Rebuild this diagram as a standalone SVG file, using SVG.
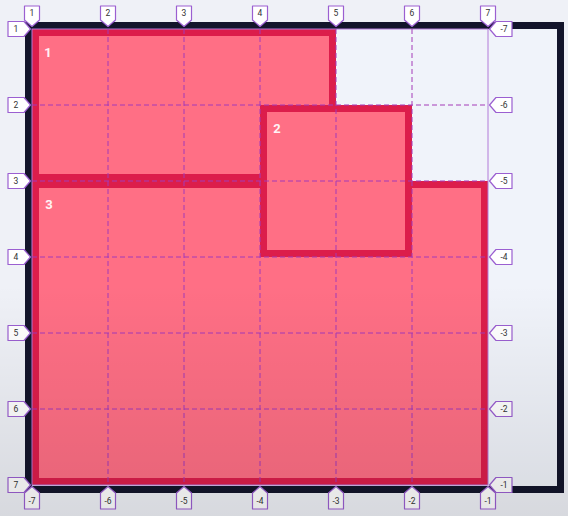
<svg xmlns="http://www.w3.org/2000/svg" width="568" height="516" viewBox="0 0 568 516">
<defs>
<linearGradient id="shade" x1="0" y1="0" x2="0" y2="1">
<stop offset="0" stop-color="#000" stop-opacity="0"/>
<stop offset="0.55" stop-color="#000" stop-opacity="0"/>
<stop offset="1" stop-color="#000" stop-opacity="0.1"/>
</linearGradient>
<style>
.item{fill:#ff6f85;stroke:#dc1d4b;stroke-width:7}
.num{font-family:Roboto,"Liberation Sans",sans-serif;font-size:13px;font-weight:700;fill:#fff3f5;text-anchor:middle}
.dash{stroke:#a43ab8;stroke-width:1;stroke-dasharray:5 3;fill:none}
.solid{stroke:#b27ad8;stroke-width:1;fill:none}
.badge path{fill:#fff;stroke:#9b5fd1;stroke-width:1.2;stroke-linejoin:round}
.badge text{font-family:Roboto,"Liberation Sans",sans-serif;font-size:8.5px;fill:#333;text-anchor:middle}
</style>
</defs>
<rect width="568" height="516" fill="#eff1f7"/>
<g id="container">
<rect x="28.5" y="25.5" width="532" height="464" fill="#f0f3fa" stroke="#13152b" stroke-width="7"/>
</g>
<g id="item1">
<rect class="item" x="35.5" y="32.5" width="297" height="145"/>
<text class="num" x="48" y="57">1</text>
</g>
<g id="item3">
<rect class="item" x="35.5" y="184.5" width="449" height="297"/>
<text class="num" x="49" y="209">3</text>
</g>
<g id="item2">
<rect class="item" x="263.5" y="108.5" width="145" height="145"/>
<text class="num" x="277" y="133">2</text>
</g>
<g id="connectors">
<rect class="solid" x="32" y="29" width="456" height="456"/>
<path class="dash" d="M108 29V485M184 29V485M260 29V485M336 29V485M412 29V485M32 105H488M32 181H488M32 257H488M32 333H488M32 409H488"/>
</g>
<g id="labels-top" class="badge">
<g id="t1"><path d="M24.5 6H39.5V20L32 26.5L24.5 20Z"/><text x="32" y="16">1</text></g>
<g id="t2"><path d="M100.5 6H115.5V20L108 26.5L100.5 20Z"/><text x="108" y="16">2</text></g>
<g id="t3"><path d="M176.5 6H191.5V20L184 26.5L176.5 20Z"/><text x="184" y="16">3</text></g>
<g id="t4"><path d="M252.5 6H267.5V20L260 26.5L252.5 20Z"/><text x="260" y="16">4</text></g>
<g id="t5"><path d="M328.5 6H343.5V20L336 26.5L328.5 20Z"/><text x="336" y="16">5</text></g>
<g id="t6"><path d="M404.5 6H419.5V20L412 26.5L404.5 20Z"/><text x="412" y="16">6</text></g>
<g id="t7"><path d="M480.5 6H495.5V20L488 26.5L480.5 20Z"/><text x="488" y="16">7</text></g>
</g>
<g id="labels-left" class="badge">
<g id="l1"><path d="M8 21.5H24L30.5 29L24 36.5H8Z"/><text x="16" y="32">1</text></g>
<g id="l2"><path d="M8 97.5H24L30.5 105L24 112.5H8Z"/><text x="16" y="108">2</text></g>
<g id="l3"><path d="M8 173.5H24L30.5 181L24 188.5H8Z"/><text x="16" y="184">3</text></g>
<g id="l4"><path d="M8 249.5H24L30.5 257L24 264.5H8Z"/><text x="16" y="260">4</text></g>
<g id="l5"><path d="M8 325.5H24L30.5 333L24 340.5H8Z"/><text x="16" y="336">5</text></g>
<g id="l6"><path d="M8 401.5H24L30.5 409L24 416.5H8Z"/><text x="16" y="412">6</text></g>
<g id="l7"><path d="M8 477.5H24L30.5 485L24 492.5H8Z"/><text x="16" y="488">7</text></g>
</g>
<g id="labels-right" class="badge">
<g id="r1"><path d="M489.5 29L496 21.5H512V36.5H496Z"/><text x="504" y="32">-7</text></g>
<g id="r2"><path d="M489.5 105L496 97.5H512V112.5H496Z"/><text x="504" y="108">-6</text></g>
<g id="r3"><path d="M489.5 181L496 173.5H512V188.5H496Z"/><text x="504" y="184">-5</text></g>
<g id="r4"><path d="M489.5 257L496 249.5H512V264.5H496Z"/><text x="504" y="260">-4</text></g>
<g id="r5"><path d="M489.5 333L496 325.5H512V340.5H496Z"/><text x="504" y="336">-3</text></g>
<g id="r6"><path d="M489.5 409L496 401.5H512V416.5H496Z"/><text x="504" y="412">-2</text></g>
<g id="r7"><path d="M489.5 485L496 477.5H512V492.5H496Z"/><text x="504" y="488">-1</text></g>
</g>
<g id="labels-bottom" class="badge">
<g id="b1"><path d="M32 486.5L39.5 493V509H24.5V493Z"/><text x="32" y="504">-7</text></g>
<g id="b2"><path d="M108 486.5L115.5 493V509H100.5V493Z"/><text x="108" y="504">-6</text></g>
<g id="b3"><path d="M184 486.5L191.5 493V509H176.5V493Z"/><text x="184" y="504">-5</text></g>
<g id="b4"><path d="M260 486.5L267.5 493V509H252.5V493Z"/><text x="260" y="504">-4</text></g>
<g id="b5"><path d="M336 486.5L343.5 493V509H328.5V493Z"/><text x="336" y="504">-3</text></g>
<g id="b6"><path d="M412 486.5L419.5 493V509H404.5V493Z"/><text x="412" y="504">-2</text></g>
<g id="b7"><path d="M488 486.5L495.5 493V509H480.5V493Z"/><text x="488" y="504">-1</text></g>
</g>
<rect width="568" height="516" fill="url(#shade)"/>
</svg>
